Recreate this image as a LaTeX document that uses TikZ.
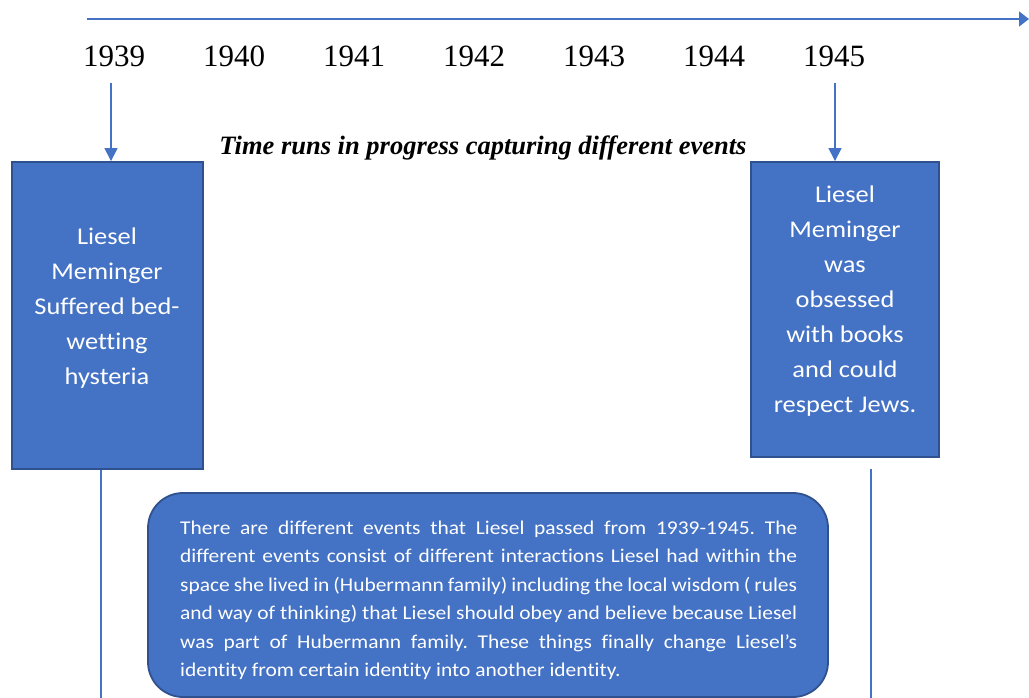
\documentclass[tikz,border=0pt]{standalone}
\usepackage{fontspec}
\setmainfont{Liberation Serif}
\newfontfamily\carl[FakeStretch=1.1,Ligatures=NoCommon]{Carlito}
\usetikzlibrary{arrows.meta}
\definecolor{accent}{HTML}{4472C4}
\definecolor{accentdark}{HTML}{2F528F}
\tikzset{
  year/.style={inner sep=0pt, font=\fontsize{31}{31}\selectfont},
  eventbox/.style={draw=accentdark, line width=1.8pt, fill=accent, inner sep=0pt},
  boxtext/.style={text=white, align=center, inner sep=0pt, font=\carl\fontsize{24}{35}\selectfont},
  downarrow/.style={draw=accent, line width=1.2pt, -{Triangle[length=13pt,width=13pt]}},
  stem/.style={draw=accent, line width=1.2pt},
}
\begin{document}
\frenchspacing
\begin{tikzpicture}[x=1pt,y=-1pt]
\useasboundingbox (0,0) rectangle (1029,698);
% timeline
\coordinate (tl0) at (87,19);
\coordinate (tl1) at (1029,19);
\draw[accent, line width=1.5pt, -{Triangle[length=10pt,width=15pt]}] (tl0) -- (tl1);
% years
\foreach \yr [count=\i from 0] in {1939,1940,1941,1942,1943,1944,1945}
  \node[year] (y\yr) at (114+120*\i,56) {\yr};
% title
\node[inner sep=0pt, font=\bfseries\itshape\fontsize{26.5}{26.5}\selectfont] (title) at (483,148) {Time runs in progress capturing different events};
% boxes
\node[eventbox, minimum width=191pt, minimum height=307pt] (box1) at (107.5,315.5) {};
\node[boxtext] (t1) at (107,308) {Liesel\\Meminger\\Suffered bed-\\wetting\\hysteria};
\node[eventbox, minimum width=188pt, minimum height=295pt] (box2) at (845,309.5) {};
\node[boxtext] (t2) at (845,301) {Liesel\\Meminger\\was\\obsessed\\with books\\and could\\respect Jews.};
% arrows
\coordinate (a1) at (111,83);
\coordinate (a2) at (835,83);
\draw[downarrow] (a1) -- (a1 |- box1.north);
\draw[downarrow] (a2) -- (a2 |- box2.north);
% stems
\coordinate (s1) at (101,698);
\coordinate (s2) at (871,698);
\draw[stem] (s1 |- box1.south) -- (s1);
\coordinate (s2top) at (871,469);
\draw[stem] (s2top) -- (s2);
% summary
\draw[draw=accentdark, line width=1.8pt, fill=accent, rounded corners=35pt] (148,493) rectangle (828,697);
\node[anchor=north west, inner sep=0pt, text width=617pt, align=justify, text=white, font=\carl\fontsize{19.5}{28.5}\selectfont] (summary) at (180,520.5) {There are different events that Liesel passed from 1939-1945. The\linebreak different events consist of different interactions Liesel had within the\linebreak space she lived in (Hubermann family) including the local wisdom ( rules\linebreak and way of thinking) that Liesel should obey and believe because Liesel\linebreak was part of Hubermann family. These things finally change Liesel’s\linebreak identity from certain identity into another identity.};
\end{tikzpicture}
\end{document}
